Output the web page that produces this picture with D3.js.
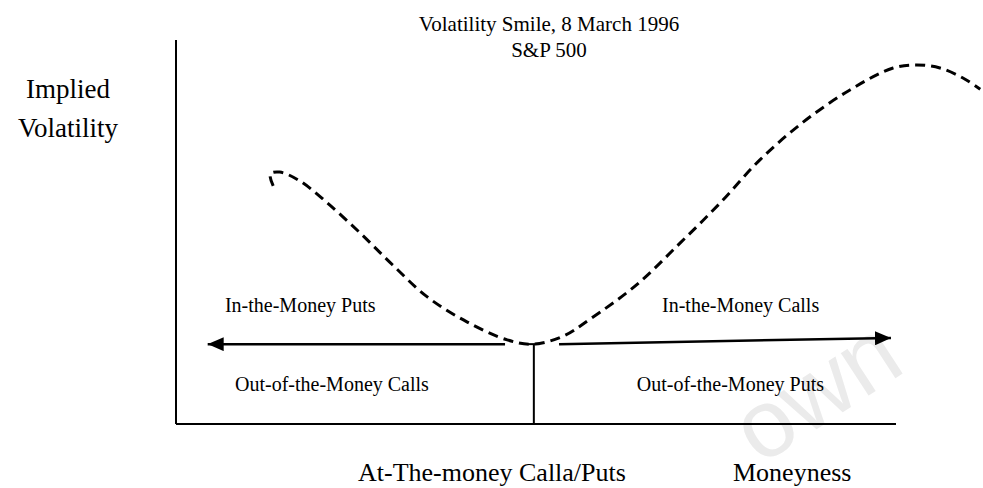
<!DOCTYPE html>
<html>
<head>
<meta charset="utf-8">
<script src="https://cdn.jsdelivr.net/npm/d3@7"></script>
<style>
  body { margin: 0; background: #fff; }
  text { font-family: "Liberation Serif", "Times New Roman", serif; fill: #000; }
</style>
</head>
<body>
<svg id="chart" width="983" height="488"></svg>
<script>
// moneyness (0 = axis origin) and implied vol
const moneyness = [13.5, 13.1, 14.4, 17.2, 21.0, 25.6, 30.1, 34.9, 40.4, 46.0, 49.7,
  53.8, 57.5, 64.0, 70.0, 75.6, 81.1, 87.1, 93.6, 99.6, 102.9, 106.1, 109.3, 111.7];
const impliedVol = [62.0, 65.1, 65.6, 63.3, 57.6, 49.7, 41.4, 33.1, 26.6, 21.9, 20.8,
  22.9, 27.3, 36.3, 47.1, 57.6, 68.8, 78.6, 87.0, 92.7, 93.5, 92.7, 90.1, 87.2];

const atm = 49.7;
const atmVol = 20.8;
// arrows: [fromX, fromY, toX, toY]
const arrows = [
  [45.7, 20.8, 4.4, 20.8],
  [53.2, 20.8, 99.3, 22.4],
];
const regionLabels = [
  { text: "In-the-Money Puts", x: 6.8, y: 29.2 },
  { text: "Out-of-the-Money Calls", x: 8.2, y: 8.6 },
  { text: "In-the-Money Calls", x: 67.5, y: 29.2 },
  { text: "Out-of-the-Money Puts", x: 64.0, y: 8.6 },
];

const svg = d3.select("#chart");
const x = d3.scaleLinear().domain([0, 100]).range([176, 896]);
const y = d3.scaleLinear().domain([0, 100]).range([424, 40]);

// faint watermark
svg.append("text")
  .attr("transform", "translate(760,466) rotate(-33)")
  .style("font-family", "Liberation Sans, sans-serif")
  .style("font-size", "96px")
  .style("fill", "#ebebeb")
  .text("own");

svg.append("defs").append("marker")
  .attr("id", "head")
  .attr("viewBox", "0 0 16 14")
  .attr("refX", 16).attr("refY", 7)
  .attr("markerWidth", 16).attr("markerHeight", 14)
  .attr("markerUnits", "userSpaceOnUse")
  .attr("orient", "auto")
  .append("path").attr("d", "M0,0L16,7L0,14Z").attr("fill", "#000");

// axes (plain lines, no ticks)
svg.append("line")
  .attr("x1", x(0)).attr("x2", x(0)).attr("y1", y(0)).attr("y2", y(100))
  .attr("stroke", "#000").attr("stroke-width", 2);
svg.append("line")
  .attr("x1", x(0)).attr("x2", x(100)).attr("y1", y(0)).attr("y2", y(0))
  .attr("stroke", "#000").attr("stroke-width", 2);

// at-the-money marker
svg.append("line")
  .attr("x1", x(atm)).attr("x2", x(atm)).attr("y1", y(0)).attr("y2", y(atmVol))
  .attr("stroke", "#000").attr("stroke-width", 2);
svg.append("line")
  .attr("x1", x(atm) - 6).attr("x2", x(atm) + 6).attr("y1", y(atmVol)).attr("y2", y(atmVol))
  .attr("stroke", "#000").attr("stroke-width", 2);

svg.selectAll(".arrow")
  .data(arrows)
  .enter()
  .append("line")
  .classed("arrow", true)
  .attr("x1", (d) => x(d[0])).attr("y1", (d) => y(d[1]))
  .attr("x2", (d) => x(d[2])).attr("y2", (d) => y(d[3]))
  .attr("stroke", "#000").attr("stroke-width", 2.5)
  .attr("marker-end", "url(#head)");

const pts = moneyness.map((m, i) => [m, impliedVol[i]]);
const line = d3.line()
  .x((d) => x(d[0]))
  .y((d) => y(d[1]))
  .curve(d3.curveCatmullRom.alpha(0.5));

svg.append("path")
  .datum(pts)
  .attr("d", line)
  .attr("fill", "none")
  .attr("stroke", "#000")
  .attr("stroke-width", 3)
  .attr("stroke-dasharray", "10,6");

svg.selectAll(".region")
  .data(regionLabels)
  .enter()
  .append("text")
  .classed("region", true)
  .attr("x", (d) => x(d.x))
  .attr("y", (d) => y(d.y))
  .style("font-size", "20px")
  .text((d) => d.text);

// titles
svg.append("text").attr("x", 549).attr("y", 31).attr("text-anchor", "middle")
  .style("font-size", "21px").text("Volatility Smile, 8 March 1996");
svg.append("text").attr("x", 549).attr("y", 57).attr("text-anchor", "middle")
  .style("font-size", "21px").text("S&P 500");

svg.append("text").attr("x", 68).attr("y", 98).attr("text-anchor", "middle")
  .style("font-size", "27px").text("Implied");
svg.append("text").attr("x", 68).attr("y", 137).attr("text-anchor", "middle")
  .style("font-size", "27px").text("Volatility");

svg.append("text").attr("x", 358).attr("y", 481)
  .style("font-size", "26px").text("At-The-money Calla/Puts");
svg.append("text").attr("x", 733).attr("y", 481)
  .style("font-size", "26px").text("Moneyness");
</script>
</body>
</html>
